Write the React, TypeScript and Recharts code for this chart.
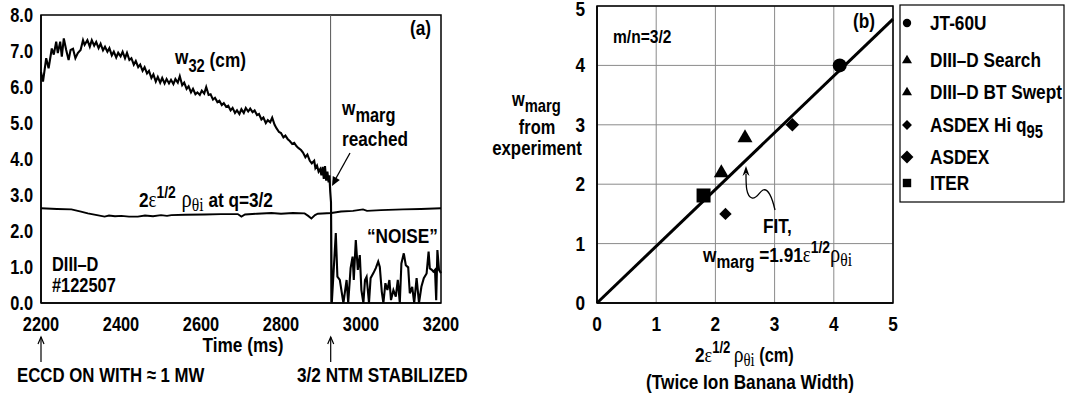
import { ComposedChart, Line, Scatter, XAxis, YAxis, CartesianGrid, ReferenceLine, ReferenceArea } from 'recharts';

// panel (a): island width w32 vs time, [t (ms), w (cm)]
const w32: [number, number][] = [
  [2200, 6.42], [2205, 6.15], [2213, 6.8], [2219, 6.52], [2227, 7.07], [2232, 6.9], [2238, 7.26], [2242, 6.94],
  [2248, 7.26], [2252, 6.84], [2257, 7.35], [2263, 7.03], [2269, 6.75], [2274, 7.03], [2280, 7.06], [2286, 6.8],
  [2292, 6.94], [2299, 7.03], [2305, 7.3], [2309, 7.17], [2316, 7.3], [2322, 7.12], [2327, 7.3], [2333, 7.15],
  [2338, 7.25], [2344, 7.08], [2349, 7.2], [2355, 7.02], [2360, 7.12], [2366, 6.98], [2371, 7.08], [2377, 6.88],
  [2382, 6.98], [2388, 6.82], [2393, 6.95], [2399, 6.85], [2404, 6.98], [2410, 6.8], [2415, 6.95], [2421, 6.75],
  [2426, 6.8], [2432, 6.62], [2437, 6.72], [2443, 6.55], [2448, 6.62], [2454, 6.45], [2459, 6.55], [2465, 6.38],
  [2470, 6.45], [2476, 6.25], [2481, 6.35], [2487, 6.15], [2492, 6.28], [2498, 6.12], [2503, 6.25], [2509, 6.1],
  [2514, 6.22], [2520, 6.1], [2525, 6.2], [2531, 6.08], [2536, 6.22], [2542, 6.12], [2547, 6.3], [2553, 6.05],
  [2558, 6.12], [2564, 5.95], [2569, 6.02], [2575, 5.85], [2580, 5.95], [2586, 5.8], [2591, 5.85], [2597, 5.78],
  [2602, 5.9], [2608, 5.82], [2613, 6.0], [2619, 5.78], [2624, 5.8], [2630, 5.65], [2635, 5.7], [2641, 5.58],
  [2646, 5.62], [2652, 5.5], [2657, 5.55], [2663, 5.45], [2668, 5.48], [2674, 5.35], [2679, 5.42], [2685, 5.28],
  [2690, 5.35], [2696, 5.25], [2701, 5.38], [2707, 5.28], [2712, 5.42], [2718, 5.32], [2723, 5.4], [2729, 5.3],
  [2734, 5.35], [2740, 5.22], [2745, 5.25], [2751, 5.1], [2756, 5.15], [2762, 5.0], [2767, 5.08], [2773, 5.02],
  [2778, 5.15], [2784, 4.95], [2789, 4.85], [2795, 4.75], [2800, 4.72], [2806, 4.6], [2811, 4.65], [2817, 4.55],
  [2822, 4.5], [2828, 4.42], [2833, 4.45], [2839, 4.35], [2844, 4.3], [2850, 4.25], [2855, 4.18], [2861, 4.05],
  [2866, 4.12], [2872, 3.95], [2877, 3.88], [2883, 3.95], [2886, 3.75], [2890, 3.82], [2894, 3.65], [2898, 3.72],
  [2901, 3.55], [2904, 3.78], [2907, 3.45], [2910, 3.8], [2913, 3.4], [2916, 3.65], [2919, 3.35], [2921, 3.55],
  [2923, 3.1], [2925, 2.8], [2927, 0.0],
];

// after stabilization: "NOISE"
const noise: [number, number][] = [
  [2937, 1.94], [2941, 0.73], [2947, 0.64], [2956, 0], [2964, 0.64], [2968, 0], [2974, 0.97], [2979, 1.29],
  [2982, 0.64], [2987, 1.75], [2992, 0.92], [2997, 1.33], [3001, 0.36], [3006, 0], [3010, 0.64], [3014, 0.73],
  [3020, 0], [3024, 0.69], [3031, 0.83], [3037, 0.97], [3043, 1.15], [3047, 1.0], [3052, 0.31], [3056, 0],
  [3061, 0.55], [3066, 0.36], [3071, 0.64], [3075, 0.08], [3081, 0.36], [3087, 0.18], [3092, 0.64], [3097, 0],
  [3101, 1.1], [3107, 1.38], [3112, 1.05], [3118, 0.99], [3122, 0.27], [3128, 0.45], [3133, 0], [3139, 0.69],
  [3145, 0], [3151, 0.45], [3157, 0.69], [3164, 0.82], [3169, 1.43], [3172, 0.96], [3177, 0.92], [3181, 0.87],
  [3185, 0.92], [3188, 0.08], [3191, 1.47], [3195, 0.92], [3200, 0.83],
];

// 2 eps^1/2 rho_theta_i at q=3/2
const rho: [number, number][] = [
  [2200, 2.63], [2240, 2.61], [2276, 2.6], [2300, 2.54], [2317, 2.49], [2340, 2.44], [2359, 2.4], [2370, 2.43],
  [2385, 2.41], [2401, 2.42], [2420, 2.4], [2442, 2.4], [2460, 2.43], [2480, 2.41], [2500, 2.44], [2515, 2.42],
  [2526, 2.44], [2560, 2.45], [2609, 2.46], [2650, 2.47], [2692, 2.47], [2701, 2.4], [2710, 2.46], [2740, 2.48],
  [2776, 2.5], [2800, 2.48], [2830, 2.5], [2859, 2.49], [2868, 2.42], [2876, 2.35], [2885, 2.44], [2892, 2.48],
  [2926, 2.5], [2950, 2.54], [2980, 2.56], [3005, 2.6], [3015, 2.56], [3050, 2.58], [3105, 2.6], [3150, 2.61],
  [3200, 2.63],
];

const stabilizedAt = 2924;
const timeTicks = [2200, 2400, 2600, 2800, 3000, 3200];
const wTicks = [0, 1, 2, 3, 4, 5, 6, 7, 8];

// panel (b): w_marg vs 2 eps^1/2 rho_theta_i
const bNames = ['JT-60U', 'DIII\u2013D Search', 'DIII\u2013D BT Swept', 'ASDEX Hi q', 'ASDEX', 'ITER'];
const bX = [4.1, 2.1, 2.5, 2.17, 3.3, 1.8];
const bY = [4.0, 2.2, 2.79, 1.5, 3.0, 1.81];
const fitX = [0, 5];
const fitY = [0, 4.78];
const bTicks = [0, 1, 2, 3, 4, 5];

const SANS = '"Liberation Sans", Arial, sans-serif';
const SERIF = '"Liberation Serif", "DejaVu Serif", serif';
const NARROW = 0.82;

const marks = ['circle', 'triangle', 'triangle', 'diamondS', 'diamond', 'square'];
const legendScale = [0.6, 0.67, 0.67, 0.8, 0.95, 0.6];
const legendRows = [23, 60, 92, 125, 157, 183];

function Mark({ kind, cx, cy, s = 1 }: { kind: string; cx: number; cy: number; s?: number }) {
  if (kind === 'circle') return <circle cx={cx} cy={cy} r={7 * s} fill="#000" />;
  if (kind === 'triangle')
    return <polygon points={`${cx},${cy - 8 * s} ${cx - 7.5 * s},${cy + 5 * s} ${cx + 7.5 * s},${cy + 5 * s}`} fill="#000" />;
  if (kind === 'square') return <rect x={cx - 7 * s} y={cy - 7 * s} width={14 * s} height={14 * s} fill="#000" />;
  const r = (kind === 'diamondS' ? 6.2 : 6.8) * s;
  return <polygon points={`${cx},${cy - r} ${cx + r},${cy} ${cx},${cy + r} ${cx - r},${cy}`} fill="#000" />;
}

// bold narrow text (Helvetica Narrow look, squeezed horizontally)
function T({ x, y, size = 21, anchor = 'start', children }: any) {
  return (
    <text transform={`translate(${x},${y}) scale(${NARROW},1)`} fontSize={size} fontWeight={700}
      fontFamily={SANS} textAnchor={anchor} fill="#000">
      {children}
    </text>
  );
}

const XTick = ({ x, y, payload }: any) => <T x={x} y={y + 14} size={20} anchor="middle">{payload.value}</T>;
const YTickA = ({ x, y, payload }: any) => <T x={x} y={y + 7} size={20} anchor="end">{payload.value.toFixed(1)}</T>;
const YTickB = ({ x, y, payload }: any) => <T x={x} y={y + 7} size={21} anchor="end">{payload.value}</T>;
const XTickB = ({ x, y, payload }: any) => <T x={x} y={y + 14} size={21} anchor="middle">{payload.value}</T>;

const range = (a: number, b: number, step: number) => {
  const out: number[] = [];
  for (let v = a; v <= b + 1e-9; v += step) out.push(+v.toFixed(3));
  return out;
};

const G = (props: any) => <tspan fontFamily={SERIF} fontWeight={400} {...props} />;

export default function App() {
  const traceA = [...w32, ...noise].map(([t, v]) => ({ t, v }));
  const rhoA = rho.map(([t, v]) => ({ t, v }));
  const fitData = fitX.map((x, i) => ({ x, y: fitY[i] }));

  return (
    <div style={{ position: 'absolute', left: 0, top: 0, width: 1065, height: 399, background: '#fff' }}>
      <div style={{ position: 'absolute', left: 0, top: 0 }}>
        <ComposedChart width={480} height={399} margin={{ top: 15, right: 39, bottom: 66, left: 0 }}>
          <XAxis dataKey="t" type="number" domain={[2200, 3200]} ticks={timeTicks} height={30}
            tickLine={false} tickMargin={8} axisLine={{ stroke: '#000', strokeWidth: 1.5 }} tick={<XTick />} />
          <YAxis type="number" domain={[0, 8]} ticks={wTicks} width={41} tickLine={false}
            axisLine={{ stroke: '#000', strokeWidth: 1.5 }} tick={<YTickA />} />
          <XAxis xAxisId="m1" type="number" domain={[2200, 3200]} allowDataOverflow ticks={range(2200, 3200, 20)}
            mirror tick={false} axisLine={false} tickSize={3} tickLine={{ stroke: '#000' }} height={30} />
          <XAxis xAxisId="m2" type="number" domain={[2200, 3200]} allowDataOverflow ticks={range(2200, 3200, 100)}
            mirror tick={false} axisLine={false} tickSize={6} tickLine={{ stroke: '#000' }} height={30} />
          <YAxis yAxisId="m3" type="number" domain={[0, 8]} allowDataOverflow ticks={range(0, 8, 0.5)}
            mirror tick={false} axisLine={false} tickSize={4} tickLine={{ stroke: '#000' }} width={41} />
          <ReferenceArea x1={2200} x2={3200} y1={0} y2={8} fill="none" stroke="#000" strokeWidth={1.5} />
          <ReferenceLine x={stabilizedAt} stroke="#555" strokeWidth={1} />
          <Line data={rhoA} dataKey="v" type="linear" dot={false} stroke="#000" strokeWidth={1.9} isAnimationActive={false} />
          <Line data={traceA} dataKey="v" type="linear" dot={false} stroke="#000" strokeWidth={2.1} isAnimationActive={false} />
        </ComposedChart>
      </div>

      <div style={{ position: 'absolute', left: 500, top: 0 }}>
        <ComposedChart width={400} height={399} margin={{ top: 6, right: 7, bottom: 66, left: 67 }}>
          <CartesianGrid stroke="#8a8a8a" strokeWidth={1} />
          <XAxis dataKey="x" type="number" domain={[0, 5]} ticks={bTicks} height={30} tickLine={false}
            tickMargin={8} axisLine={{ stroke: '#000', strokeWidth: 1.5 }} tick={<XTickB />} />
          <YAxis dataKey="y" type="number" domain={[0, 5]} ticks={bTicks} width={30} tickLine={false}
            tickMargin={6} axisLine={{ stroke: '#000', strokeWidth: 1.5 }} tick={<YTickB />} />
          <XAxis xAxisId="m1" type="number" domain={[0, 5]} allowDataOverflow ticks={range(0, 5, 0.5)}
            mirror tick={false} axisLine={false} tickSize={5} tickLine={{ stroke: '#000' }} height={30} />
          <YAxis yAxisId="m2" type="number" domain={[0, 5]} allowDataOverflow ticks={range(0, 5, 0.5)}
            mirror tick={false} axisLine={false} tickSize={5} tickLine={{ stroke: '#000' }} width={30} />
          <ReferenceArea x1={0} x2={5} y1={0} y2={5} fill="none" stroke="#000" strokeWidth={1.5} />
          <Line data={fitData} dataKey="y" type="linear" dot={false} stroke="#000" strokeWidth={3} isAnimationActive={false} />
          {bNames.map((name, i) => (
            <Scatter key={name} name={name} data={[{ x: bX[i], y: bY[i] }]} isAnimationActive={false}
              shape={(p: any) => <Mark kind={marks[i]} cx={p.cx} cy={p.cy} />} />
          ))}
        </ComposedChart>
      </div>

      <svg width={1065} height={399} style={{ position: 'absolute', left: 0, top: 0, pointerEvents: 'none' }}>
        {/* panel (a) annotations */}
        <T x={175} y={64}>w<tspan dy={8} fontSize={18}>32</tspan><tspan dy={-5}> (cm)</tspan></T>
        <T x={410} y={35}>(a)</T>
        <T x={342} y={115}>w<tspan dy={7} fontSize={20}>marg</tspan></T>
        <T x={342} y={146}>reached</T>
        <line x1={350} y1={153} x2={335} y2={180} stroke="#000" strokeWidth={1.3} />
        <polygon points="332,186 339.8,179.9 332.8,176.1" fill="#000" />
        <T x={139} y={207}>2<G fontSize={23}>ε</G><tspan dy={-9} fontSize={17}>1/2</tspan>
          <G dy={9} dx={7} fontSize={25}>ρ</G>
          <G dy={4} fontSize={19}>θi</G>
          <tspan dy={-4}> at q=3/2</tspan></T>
        <T x={52} y={271} size={20}>DIII–D</T>
        <T x={52} y={292} size={20}>#122507</T>
        <T x={367} y={243}>“NOISE”</T>
        <T x={243} y={352} anchor="middle">Time (ms)</T>
        <line x1={41} y1={362} x2={41} y2={337} stroke="#000" strokeWidth={1.2} />
        <polyline points="38,344 41,337 44,344" fill="none" stroke="#000" strokeWidth={1.2} />
        <line x1={330.7} y1={362} x2={330.7} y2={337} stroke="#000" strokeWidth={1.2} />
        <polyline points="327.7,344 330.7,337 333.7,344" fill="none" stroke="#000" strokeWidth={1.2} />
        <T x={17} y={382} size={20.5}>ECCD ON WITH ≈ 1 MW</T>
        <T x={297} y={382}>3/2 NTM STABILIZED</T>

        {/* panel (b) annotations */}
        <T x={853} y={28}>(b)</T>
        <T x={613} y={43} size={19}>m/n=3/2</T>
        <T x={512} y={106} size={20}>w<tspan dy={6} fontSize={18}>marg</tspan></T>
        <T x={537} y={134} size={20} anchor="middle">from</T>
        <T x={537} y={155} size={20.5} anchor="middle">experiment</T>
        <T x={763} y={233}>FIT,</T>
        <T x={703} y={262}>w<tspan dy={6} fontSize={19}>marg</tspan><tspan dy={-6}> =1.91</tspan>
          <G fontSize={23}>ε</G><tspan dy={-9} fontSize={17}>1/2</tspan>
          <G dy={9} fontSize={25}>ρ</G>
          <G dy={4} fontSize={19}>θi</G></T>
        <path d="M775,210 C772,197 768,188 763,190 C759,192 757,199 752,198 C746,196 746,185 746,174"
          fill="none" stroke="#000" strokeWidth={1.3} />
        <polygon points="746,166 742.5,176 746,173 749.5,176" fill="#000" />
        <T x={695} y={362}>2<G fontSize={22}>ε</G><tspan dy={-9} fontSize={16}>1/2</tspan>
          <G dy={9} dx={4} fontSize={24}>ρ</G>
          <G dy={4} fontSize={18}>θi</G>
          <tspan dy={-4} fontSize={20}> (cm)</tspan></T>
        <T x={750} y={389} anchor="middle">(Twice Ion Banana Width)</T>

        {/* legend */}
        <rect x={900} y={5} width={164} height={197} fill="#fff" stroke="#000" strokeWidth={1.2} />
        {bNames.map((name, i) => (
          <g key={name}>
            <Mark kind={marks[i]} cx={907} cy={legendRows[i]} s={legendScale[i]} />
            <T x={930} y={legendRows[i] + 7}>{name}{i === 3 && <tspan dy={6} fontSize={18}>95</tspan>}</T>
          </g>
        ))}
      </svg>
    </div>
  );
}
